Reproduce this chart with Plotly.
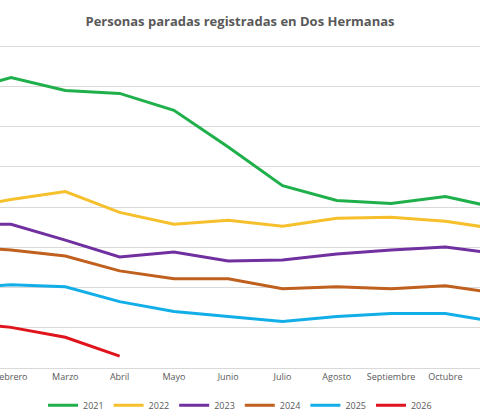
import plotly.graph_objects as go

months = ["Enero", "Febrero", "Marzo", "Abril", "Mayo", "Junio", "Julio",
          "Agosto", "Septiembre", "Octubre", "Noviembre", "Diciembre"]

y2021 = [11425, 11610, 11450, 11413, 11203, 10747, 10267, 10082, 10045, 10131, 9984, 9900]
y2022 = [9971, 10094, 10193, 9934, 9786, 9836, 9762, 9860, 9873, 9823, 9725, 9700]
y2023 = [9786, 9786, 9589, 9380, 9441, 9331, 9343, 9417, 9466, 9503, 9417, 9400]
y2024 = [9515, 9466, 9392, 9207, 9109, 9109, 8986, 9010, 8986, 9023, 8924, 8900]
y2025 = [8986, 9035, 9010, 8825, 8702, 8641, 8579, 8641, 8678, 8678, 8567, 8550]
y2026 = [8567, 8505, 8382, 8148]

series = [
    ("2021", y2021, "#1FB04C"),
    ("2022", y2022, "#F5C02C"),
    ("2023", y2023, "#7030A0"),
    ("2024", y2024, "#C0601E"),
    ("2025", y2025, "#12AEE8"),
    ("2026", y2026, "#E0141C"),
]

fig = go.Figure()
for name, vals, color in series:
    fig.add_trace(go.Scatter(
        x=list(range(len(vals))), y=vals, name=name, mode="lines",
        line=dict(color=color, width=3),
    ))

fig.update_layout(
    width=480, height=420,
    margin=dict(l=0, r=0, t=43, b=52, autoexpand=False),
    paper_bgcolor="white", plot_bgcolor="white",
    font=dict(family="Open Sans", color="#595959", size=10),
    title=dict(text="<b>Personas paradas registradas en Dos Hermanas</b>",
               x=0.5, y=0.96, xanchor="center",
               font=dict(size=13, color="#595959")),
    legend=dict(orientation="h", x=0.5, xanchor="center", y=-0.07,
                yanchor="top", font=dict(size=9)),
    showlegend=True,
)
fig.update_xaxes(range=[0.797, 9.637], tickvals=list(range(12)), ticktext=months,
                 showgrid=False, showline=True, linecolor="#D9D9D9",
                 ticks="", tickfont=dict(size=9), automargin=False,
                 ticklabeloverflow="allow")
fig.update_yaxes(range=[8000, 12040], dtick=500, showgrid=True,
                 gridcolor="#D9D9D9", showticklabels=False, zeroline=False,
                 automargin=False)

fig.write_html("out.html", config={"displayModeBar": False},
               post_script="document.body.style.margin='0';")
